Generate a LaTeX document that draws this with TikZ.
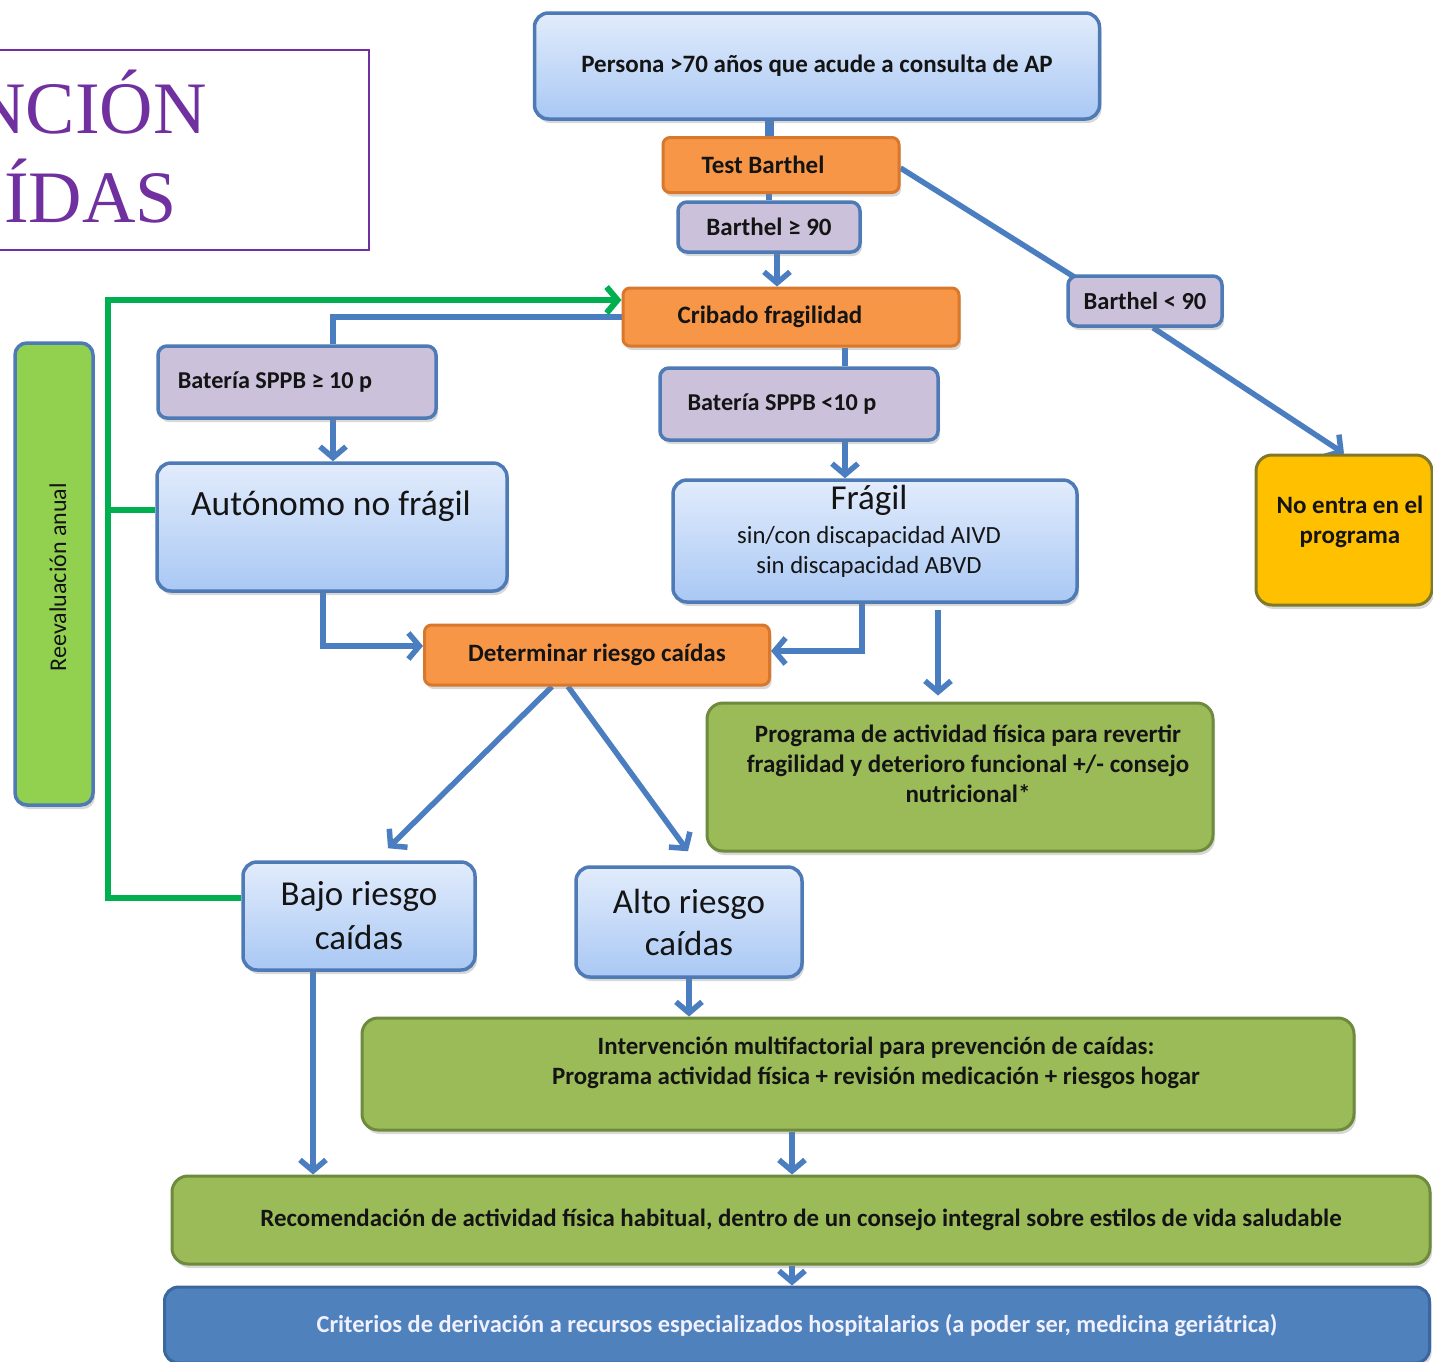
\documentclass[tikz,border=0pt]{standalone}
\usepackage{fontspec}
\setmainfont{Carlito}
\newfontfamily\titlefont{Liberation Serif}
\usetikzlibrary{arrows.meta,shadows,calc,backgrounds}
\definecolor{bblue}{HTML}{4E7AB6}
\definecolor{cblue}{HTML}{4A7EC0}
\definecolor{lbtop}{HTML}{E2ECFC}
\definecolor{lbbot}{HTML}{A9C8F4}
\definecolor{lav}{HTML}{CCC1DA}
\definecolor{orng}{HTML}{F79646}
\definecolor{orbord}{HTML}{D8782C}
\definecolor{grn}{HTML}{9BBB59}
\definecolor{grbord}{HTML}{6E8A3C}
\definecolor{rgrn}{HTML}{92D050}
\definecolor{gold}{HTML}{FFC000}
\definecolor{goldbord}{HTML}{7F7A2A}
\definecolor{critfill}{HTML}{4F81BD}
\definecolor{critbord}{HTML}{3A679F}
\definecolor{gline}{HTML}{00B050}
\definecolor{purp}{HTML}{7030A0}
\definecolor{tdark}{HTML}{141414}
\begin{document}
\begin{tikzpicture}[x=1pt,y=-1pt,
  shd/.style={drop shadow={opacity=0.3,shadow xshift=2pt,shadow yshift=-4pt}},
  box/.style={draw=bblue, line width=3.5pt, inner sep=2pt, align=center, text=tdark},
  lbox/.style={box, rounded corners=14pt, top color=lbtop, bottom color=lbbot, shd},
  lavbox/.style={box, rounded corners=9pt, fill=lav, shd},
  orbox/.style={box, draw=orbord, line width=3pt, rounded corners=7pt, fill=orng, shd},
  grbox/.style={box, draw=grbord, line width=3pt, rounded corners=16pt, fill=grn, shd},
  txt/.style={inner sep=0pt, align=center, text=tdark},
  fs/.style 2 args={font=\bfseries\fontsize{#1}{#2}\selectfont},
  fr/.style 2 args={font=\fontsize{#1}{#2}\selectfont},
  conn/.style={draw=cblue, line width=5.5pt},
  arr/.style={conn, -{Straight Barb[length=11pt,width=26pt]}},
  gconn/.style={draw=gline, line width=6pt},
  garr/.style={gconn, -{Straight Barb[length=11pt,width=26pt]}}
]
\useasboundingbox (0,0) rectangle (1433,1361);
\clip (0,0) rectangle (1433,1361);

% title
\node[draw=purp, line width=1.5pt, minimum width=380pt, minimum height=200pt, inner sep=0pt] (titlebox) at (179,150) {};
\node[inner sep=0pt, anchor=base east, text=purp, font=\titlefont\fontsize{74}{80}\selectfont] (t1) at (207,133) {NCIÓN};
\node[inner sep=0pt, anchor=base east, text=purp, font=\titlefont\fontsize{74}{80}\selectfont] (t2) at (177,222) {ÍDAS};

% boxes
\node[lbox, minimum width=565pt, minimum height=106pt, fs={25}{30}] (persona) at (817,66) {Persona >70 años que acude a consulta de AP};
\node[orbox, minimum width=236pt, minimum height=55pt, fs={25}{30}] (test) at (781,165) {Test Barthel\hspace*{36pt}};
\node[lavbox, minimum width=182pt, minimum height=50pt, fs={25}{30}] (b90) at (769,227) {Barthel ≥ 90};
\node[orbox, minimum width=336pt, minimum height=58pt, fs={25}{30}] (crib) at (791,317) {Cribado fragilidad\hspace*{42pt}};
\node[lavbox, minimum width=154pt, minimum height=50pt, fs={24.5}{30}] (blt) at (1145,301) {Barthel < 90};
\node[box, draw=goldbord, line width=3pt, rounded corners=16pt, fill=gold, shd, minimum width=176pt, minimum height=150pt] (noentra) at (1344,530) {};
\node[txt, fs={25}{30}] (noentrat) at (1350,522) {No entra en el\\programa};
\node[lavbox, minimum width=278pt, minimum height=72pt, fs={24.2}{30}] (bat10) at (297,382) {Batería SPPB ≥ 10 p\hspace*{44pt}};
\node[lavbox, minimum width=278pt, minimum height=72pt, fs={24.2}{30}] (batlt) at (799,404) {Batería SPPB <10 p\hspace*{34pt}};
\node[lbox, minimum width=350pt, minimum height=128pt] (auton) at (332,527) {};
\node[txt, fr={35.5}{40}] (autont) at (331,506) {Autónomo no frágil};
\node[lbox, minimum width=404pt, minimum height=122pt] (fragil) at (875,541) {};
\node[txt, fr={35}{40}] (fragilt) at (869,500) {Frágil};
\node[txt, fr={24.7}{30}] (fragilt2) at (869,552) {sin/con discapacidad AIVD\\sin discapacidad ABVD};
\node[orbox, minimum width=345pt, minimum height=60pt, fs={25}{30}] (determ) at (597,655) {Determinar riesgo caídas};
\node[grbox, minimum width=506pt, minimum height=148pt] (prog) at (960,777) {};
\node[txt, fs={25}{30}] (progt) at (968,764) {Programa de actividad física para revertir\\fragilidad y deterioro funcional +/- consejo\\nutricional*};
\node[lbox, minimum width=232pt, minimum height=108pt, fr={35}{44}] (bajo) at (359,916) {Bajo riesgo\\caídas};
\node[lbox, minimum width=226pt, minimum height=110pt, fr={35}{42}] (alto) at (689,922) {Alto riesgo\\caídas};
\node[grbox, minimum width=992pt, minimum height=112pt] (interv) at (858,1074) {};
\node[txt, fs={24.9}{30}] (intervt) at (876,1063) {Intervención multifactorial para prevención de caídas:\\Programa actividad física + revisión medicación + riesgos hogar};
\node[grbox, minimum width=1258pt, minimum height=88pt, fs={24.9}{30}] (recom) at (801,1220) {Recomendación de actividad física habitual, dentro de un consejo integral sobre estilos de vida saludable};
\node[box, draw=critbord, line width=3pt, rounded corners=14pt, fill=critfill, shd, minimum width=1265pt, minimum height=76pt, text=white!94!blue, fs={24.4}{30}] (crit) at (797,1325) {Criterios de derivación a recursos especializados hospitalarios (a poder ser, medicina geriátrica)};
\node[box, rounded corners=12pt, fill=rgrn, shd, minimum width=78pt, minimum height=462pt] (reev) at (54,574) {};
\node[txt, rotate=90, fr={24}{28}] (reevt) at (58,577) {Reevaluación anual};

% helper coordinates
\coordinate (colA) at (333,0);
\coordinate (colF) at (845,0);
\coordinate (colG) at (108,300);
\coordinate (colB) at (313,0);
\coordinate (colP) at (938,0);
\coordinate (colR) at (792,0);

\begin{scope}[on background layer]
\fill[white] (0,0) rectangle (1433,1361);
\draw[conn, line width=9pt] (persona.south -| b90) -- (test.north -| b90);
\draw[conn] (test.south -| b90) -- (b90.north);
\draw[arr] ($(b90.south)+(8,0)$) -- ($(b90.south |- crib.north)+(8,0)$);
\draw[conn] ($(test.east)+(0,3)$) -- ($(blt.north west)+(10,4)$);
\draw[arr] ($(blt.south)+(8,0)$) -- (noentra.north);
\draw[conn] (crib.west) -| (bat10.north -| colA);
\draw[arr] (bat10.south -| colA) -- (auton.north -| colA);
\draw[conn] (crib.south -| colF) -- (batlt.north -| colF);
\draw[arr] (batlt.south -| colF) -- (fragil.north -| colF);
\draw[arr] ($(auton.south)+(-9,-8)$) |- ($(determ.west)+(0,-9)$);
\draw[arr] ($(fragil.south -| colF)+(17,0)$) |- ($(determ.east)+(0,-4)$);
\draw[arr] ($(fragil.south -| colP)+(0,6)$) -- ($(prog.north -| colP)+(0,-6)$);
\draw[arr] ($(determ.south)+(-45,0)$) -- ($(bajo.north)+(29,-12)$);
\draw[arr] ($(determ.south)+(-29,0)$) -- ($(alto.north)+(-1,-14)$);
\draw[arr] (alto.south) -- (interv.north -| alto.south);
\draw[arr] (bajo.south -| colB) -- (recom.north -| colB);
\draw[arr] (interv.south -| colR) -- (recom.north -| colR);
\draw[arr] (recom.south -| colR) -- (crit.north -| colR);
\draw[garr] ($(bajo.west)+(0,-18)$) -| (colG) -- ($(colG -| crib.west)$);
\draw[gconn] ($(colG |- auton.west)+(0,-17)$) -- ($(auton.west)+(0,-17)$);
\end{scope}
\end{tikzpicture}
\end{document}
